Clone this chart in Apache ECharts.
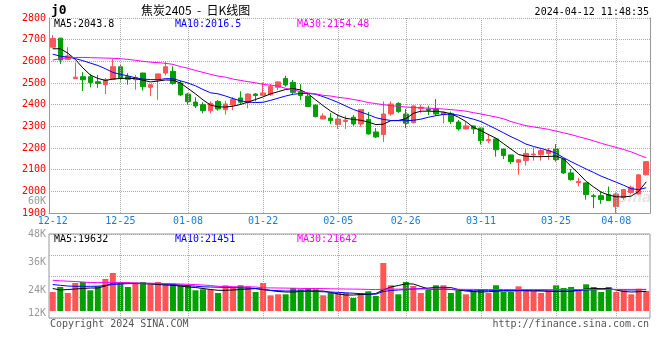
<!DOCTYPE html>
<html><head><meta charset="utf-8">
<script src="https://cdn.jsdelivr.net/npm/echarts/dist/echarts.min.js"></script>
<style>html,body{margin:0;padding:0;background:#fff}#c{width:660px;height:360px}</style>
</head><body><div id="c"></div>
<script>
const dates = ['12-12','12-13','12-14','12-15','12-18','12-19','12-20','12-21','12-22','12-25','12-26','12-27','12-28','12-29',
'01-02','01-03','01-04','01-05','01-08','01-09','01-10','01-11','01-12','01-15','01-16','01-17','01-18','01-19','01-22','01-23','01-24','01-25','01-26','01-29','01-30','01-31',
'02-01','02-02','02-05','02-06','02-07','02-08','02-19','02-20','02-21','02-22','02-23','02-26','02-27','02-28','02-29',
'03-01','03-04','03-05','03-06','03-07','03-08','03-11','03-12','03-13','03-14','03-15','03-18','03-19','03-20','03-21','03-22','03-25','03-26','03-27','03-28','03-29',
'04-01','04-02','04-03','04-08','04-09','04-10','04-11','04-12'];
const labelDates = ['12-12','12-25','01-08','01-22','02-05','02-26','03-11','03-25','04-08'];
const gridDates = ['12-25','01-08','01-22','02-05','02-26','03-11','03-25','04-08'];

const opens = [2665,2707,2609,2520,2529,2529,2506,2492,2517,2575,
2529,2515,2546,2480,2514,2546,2554,2500,2449,2412,
2400,2372,2415,2377,2398,2431,2409,2449,2443,2446,
2480,2521,2503,2460,2439,2398,2334,2338,2308,2322,
2342,2311,2332,2274,2262,2357,2406,2357,2317,2382,
2380,2380,2354,2360,2320,2288,2302,2292,2234,2242,
2195,2168,2134,2142,2168,2169,2175,2195,2149,2085,
2040,2039,1980,1980,1985,1929,1972,1995,1988,2076];
const closes = [2706,2606,2625,2527,2515,2502,2498,2515,2575,2523,
2517,2526,2483,2492,2542,2575,2498,2445,2414,2394,
2372,2406,2380,2403,2425,2411,2449,2442,2454,2485,
2505,2491,2457,2442,2392,2345,2348,2326,2334,2329,
2311,2378,2265,2251,2357,2403,2368,2314,2394,2388,
2374,2357,2365,2322,2288,2302,2288,2234,2239,2192,
2165,2137,2146,2175,2172,2188,2188,2146,2085,2054,
2046,1985,1976,1962,1957,1988,2008,2019,2076,2137];
const lows = [2660,2588,2607,2519,2463,2480,2478,2449,2515,2506,
2492,2469,2465,2439,2423,2535,2492,2439,2400,2385,
2360,2360,2372,2354,2375,2400,2383,2415,2441,2441,
2467,2483,2449,2422,2389,2341,2333,2311,2288,2288,
2302,2298,2262,2246,2228,2349,2362,2292,2314,2362,
2352,2349,2314,2311,2280,2286,2265,2216,2222,2160,
2149,2126,2077,2119,2142,2142,2146,2137,2080,2049,
2023,1962,1922,1942,1955,1900,1962,1988,1986,2074];
const highs = [2721,2708,2665,2594,2550,2540,2537,2523,2612,2588,
2545,2537,2548,2494,2543,2598,2577,2511,2454,2434,
2411,2415,2422,2418,2434,2462,2452,2454,2503,2495,
2506,2534,2514,2495,2449,2403,2360,2362,2354,2349,
2352,2380,2366,2292,2415,2415,2411,2380,2396,2400,
2395,2426,2368,2368,2329,2320,2303,2294,2265,2243,
2197,2169,2148,2195,2203,2195,2200,2218,2152,2103,
2062,2040,1988,1998,2022,1995,2011,2026,2080,2139];

const ma5 = [2658,2658,2638,2609,2570,2537,2521,2512,2518,2521,
2522,2520,2513,2505,2509,2514,2513,2500,2475,2450,
2422,2398,2390,2389,2393,2401,2412,2424,2436,2450,
2460,2470,2474,2468,2450,2422,2395,2370,2350,2337,
2332,2328,2320,2308,2310,2326,2327,2335,2360,2370,
2370,2369,2366,2358,2342,2322,2295,2280,2262,2245,
2220,2195,2170,2162,2160,2160,2161,2163,2150,2115,
2082,2046,2020,1996,1983,1975,1974,1978,2000,2043.8];
const ma10 = [2633,2624,2619,2613,2603,2592,2581,2566,2549,2540,
2533,2524,2518,2516,2515,2520,2520,2510,2500,2487,
2470,2455,2450,2440,2428,2418,2412,2410,2411,2420,
2430,2440,2448,2452,2452,2448,2437,2424,2410,2394,
2378,2366,2354,2340,2332,2327,2326,2326,2328,2333,
2342,2349,2355,2356,2352,2342,2333,2322,2305,2288,
2270,2252,2236,2218,2207,2198,2188,2176,2155,2137,
2120,2103,2087,2070,2056,2042,2028,2012,2008,2016.5];
const ma30 = [2606,2612,2617,2618,2618,2617,2616,2615,2614,2612,
2609,2605,2600,2596,2594,2591,2586,2576,2568,2558,
2549,2540,2532,2527,2518,2512,2506,2501,2494,2490,
2486,2475,2468,2460,2454,2450,2443,2440,2434,2430,
2424,2418,2410,2405,2400,2396,2392,2389,2387,2385,
2384,2382,2380,2377,2374,2370,2363,2357,2350,2343,
2335,2322,2312,2303,2297,2292,2286,2278,2270,2262,
2252,2243,2233,2222,2212,2203,2193,2182,2168,2154.48];

// volume in thousands of lots
const volumes = [19,24,18,28,29,20.7,24.7,32,38,28,
24,28.3,29,26.7,29,27.3,27.3,25.7,25,20.7,
21.7,21.3,18,25.7,23,25.7,24.7,19,28,15.7,
16.7,16.7,23,21.7,23,21.7,15.7,18,18,18,
13,18,19.7,15,48,25.7,16.7,29,25,18,
21.3,25.7,25.7,18,20.7,16.7,20,21.7,18,25.7,
19,19,24.7,21.7,20,18,20.7,25.7,23,24,
20.7,26.7,24,19,24,19,20.7,16.7,22.3,20];
const volMa5 = [22.5,21,21.5,22,22.5,23,23,25,28,28,
28,27.8,27.4,27,26.5,26,25.7,25,24,23.5,
22.5,21.5,20.7,20.7,21,21.5,22,22.4,21.5,20.5,
19.5,19,19,19.5,20,20,20,18.5,17,16,
16,16.5,16.5,17.5,21,24,25.5,27.2,27,24.5,
22,21.5,22,21.5,21,20,19.5,19,19.3,19.8,
20,20,20.3,20.5,20.7,20.3,19.8,19.5,19.5,19.5,
21,22,22.4,22.4,22.4,21,19.5,19,19.3,19.632];
const volMa10 = [26.5,25.7,25,24.7,24.7,24.7,24.8,25.5,26.5,27,
27.4,27.4,27.4,27.4,27.2,27,26.5,26,25.4,24.8,
24.2,24,23.8,23.6,23.4,23.2,23,22.5,21.5,20.7,
20.3,20,20,20,19.8,19.5,19.2,19,18.6,18.2,
17.8,17.3,17,16.8,19.5,20.5,21,21.5,22,22.5,
23,23.7,23.7,23.5,21.5,20.7,20.3,20.2,20.3,20.3,
20.5,20.5,20.5,20.2,20,20,20,20,20,20,
20.5,21,21.3,21.5,21.7,21.5,21.2,21,21.2,21.451];
const volMa30 = [30.7,30.2,29.8,29.5,29,28.5,28.4,28.4,28.4,28.3,
28.2,28,27.9,27.8,27.6,27.5,27.2,27,26.7,26.4,
26,25.5,24.7,24.5,24.3,24.2,24.1,24,23.2,23.1,
23,22.9,22.8,22.6,22.5,22.5,22.4,22.2,22.1,22,
21.9,21.8,21.6,21.4,21.8,21.9,21.9,22,22.1,22,
21.9,21.9,21.9,21.8,21.7,21.6,21.6,21.5,21.5,21.5,
21.5,21.4,21.4,21.4,21.4,21.4,21.4,21.4,21.5,21.5,
21.5,21.5,21.5,21.5,21.6,21.6,21.6,21.6,21.6,21.642];

const priceTicks = [1900, 2800, 100];
const volTicks = [12, 48, 12];

const UP = '#ff5555', DOWN = '#00a000';
const MONO = 'DejaVu Sans Mono';
const GRIDC = '#aaaaaa';

const chart = echarts.init(document.getElementById('c'), null, {renderer: 'canvas'});

const candleData = opens.map((o, i) => [o, closes[i], lows[i], highs[i]]);
const volData = volumes.map((v, i) => ({value: v, itemStyle: {color: closes[i] >= opens[i] ? UP : DOWN}}));

const vGrid = (xi, yi) => ({
  type: 'line', xAxisIndex: xi, yAxisIndex: yi, data: [], z: 1, silent: true,
  markLine: {
    silent: true, symbol: ['none', 'none'], animation: false,
    label: {show: false},
    lineStyle: {color: GRIDC, type: [1, 1], width: 1},
    emphasis: {disabled: true},
    data: gridDates.map(d => ({xAxis: d}))
  }
});

const maLine = (data, color, xi, yi) => ({
  type: 'line', data, xAxisIndex: xi, yAxisIndex: yi, showSymbol: false, symbol: 'none',
  lineStyle: {color, width: 1}, z: 5, silent: true
});

chart.setOption({
  animation: false,
  backgroundColor: '#fff',
  grid: [
    {left: 49, right: 10, top: 18, height: 195},
    {left: 49, right: 10, top: 234, height: 84, show: true, borderColor: '#999', borderWidth: 1, backgroundColor: 'transparent'}
  ],
  xAxis: [
    {type: 'category', gridIndex: 0, data: dates, boundaryGap: true,
     axisLine: {onZero: false, lineStyle: {color: '#999'}}, axisTick: {show: false},
     splitLine: {show: false},
     axisLabel: {interval: (i, v) => labelDates.includes(v), color: '#1c7cd5', fontFamily: MONO, fontSize: 10, margin: 3}},
    {type: 'category', gridIndex: 1, data: dates, boundaryGap: true,
     axisLine: {show: false}, axisTick: {show: false}, axisLabel: {show: false}, splitLine: {show: false}}
  ],
  yAxis: [
    {type: 'value', gridIndex: 0, min: priceTicks[0], max: priceTicks[1], interval: priceTicks[2], position: 'left',
     axisLine: {show: true, lineStyle: {color: '#999'}}, axisTick: {show: false},
     axisLabel: {color: '#ff0000', fontFamily: MONO, fontSize: 10, margin: 3, formatter: v => String(v)},
     splitLine: {show: true, lineStyle: {color: GRIDC, type: [1, 1]}}},
    {type: 'value', gridIndex: 0, min: priceTicks[0], max: priceTicks[1], position: 'right',
     axisLine: {show: true, lineStyle: {color: '#999'}}, axisTick: {show: false}, axisLabel: {show: false}, splitLine: {show: false}},
    {type: 'value', gridIndex: 1, min: -7, max: 77, position: 'left',
     axisLine: {show: false}, axisTick: {show: false}, axisLabel: {show: false}, splitLine: {show: false}},
    {type: 'value', gridIndex: 1, min: 0, max: 4, interval: 1, position: 'left',
     axisLine: {show: false}, axisTick: {show: false}, axisLabel: {show: false},
     splitLine: {show: true, lineStyle: {color: GRIDC, type: [1, 1]}}},
    {type: 'value', gridIndex: 1, min: volTicks[0], max: volTicks[1], interval: volTicks[2], position: 'left',
     axisLine: {show: false}, axisTick: {show: false}, splitLine: {show: false},
     axisLabel: {color: '#999', fontFamily: MONO, fontSize: 10, margin: 3, formatter: v => v + 'K',
                 verticalAlignMinLabel: 'bottom'}}
  ],
  series: [
    vGrid(0, 0),
    vGrid(1, 2),
    {type: 'candlestick', xAxisIndex: 0, yAxisIndex: 0, data: candleData, barWidth: 5, z: 3,
     itemStyle: {color: UP, color0: DOWN, borderColor: UP, borderColor0: DOWN, borderWidth: 1}},
    maLine(ma5, '#000000', 0, 0),
    maLine(ma10, '#0000ff', 0, 0),
    maLine(ma30, '#ff00ff', 0, 0),
    {type: 'bar', xAxisIndex: 1, yAxisIndex: 2, data: volData, barWidth: 6, z: 3},
    maLine(volMa5, '#000000', 1, 2),
    maLine(volMa10, '#0000ff', 1, 2),
    maLine(volMa30, '#ff00ff', 1, 2)
  ],
  graphic: [
    {type: 'text', x: 51, y: 11, style: {text: 'j0', fill: '#000', font: 'bold 13px ' + MONO, textAlign: 'left', textVerticalAlign: 'middle'}},
    {type: 'text', x: 141, y: 10, style: {text: '焦炭2405  -  日K线图', fill: '#000', font: '12px "Noto Sans CJK SC"', textAlign: 'left', textVerticalAlign: 'middle'}},
    {type: 'text', x: 649, y: 12, style: {text: '2024-04-12 11:48:35', fill: '#000', font: '10px ' + MONO, textAlign: 'right', textVerticalAlign: 'middle'}},
    {type: 'text', x: 54, y: 24, style: {text: 'MA5:2043.8', fill: '#000', font: '10px ' + MONO, textAlign: 'left', textVerticalAlign: 'middle'}},
    {type: 'text', x: 175, y: 24, style: {text: 'MA10:2016.5', fill: '#0000ff', font: '10px ' + MONO, textAlign: 'left', textVerticalAlign: 'middle'}},
    {type: 'text', x: 297, y: 24, style: {text: 'MA30:2154.48', fill: '#ff00ff', font: '10px ' + MONO, textAlign: 'left', textVerticalAlign: 'middle'}},
    {type: 'text', x: 54, y: 239, style: {text: 'MA5:19632', fill: '#000', font: '10px ' + MONO, textAlign: 'left', textVerticalAlign: 'middle'}},
    {type: 'text', x: 175, y: 239, style: {text: 'MA10:21451', fill: '#0000ff', font: '10px ' + MONO, textAlign: 'left', textVerticalAlign: 'middle'}},
    {type: 'text', x: 297, y: 239, style: {text: 'MA30:21642', fill: '#ff00ff', font: '10px ' + MONO, textAlign: 'left', textVerticalAlign: 'middle'}},
    {type: 'text', x: 46, y: 201, style: {text: '60K', fill: '#999', font: '10px ' + MONO, textAlign: 'right', textVerticalAlign: 'middle'}},
    {type: 'text', x: 50, y: 324, style: {text: 'Copyright 2024 SINA.COM', fill: '#555', font: '10px ' + MONO, textAlign: 'left', textVerticalAlign: 'middle'}},
    {type: 'text', x: 649, y: 324, style: {text: 'http://finance.sina.com.cn', fill: '#555', font: '10px ' + MONO, textAlign: 'right', textVerticalAlign: 'middle'}},
    {type: 'text', x: 619, y: 198, z: 0, style: {text: 'sina', fill: 'rgba(0,0,0,0.10)', font: 'italic bold 14px "DejaVu Sans"', textAlign: 'left', textVerticalAlign: 'middle'}}
  ]
});
</script>
</body></html>
